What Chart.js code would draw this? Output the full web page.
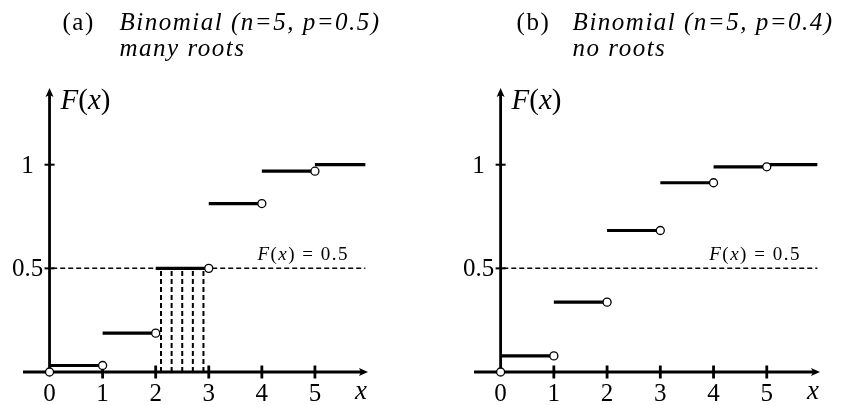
<!DOCTYPE html>
<html>
<head>
<meta charset="utf-8">
<script src="https://cdn.jsdelivr.net/npm/chart.js@4"></script>
<style>
  html, body { margin: 0; padding: 0; background: #fff; }
  #wrap { position: relative; width: 842px; height: 405px; }
  canvas { position: absolute; top: 0; }
</style>
</head>
<body>
<div id="wrap">
  <canvas id="cdfA" width="421" height="405" style="left:0"></canvas>
  <canvas id="cdfB" width="421" height="405" style="left:421px"></canvas>
</div>
<script>
// binomial CDF values, n = 5
const outcomes = [0, 1, 2, 3, 4, 5];
const cdfHalf = [0.03125, 0.1875, 0.5, 0.8125, 0.96875, 1];      // p = 0.5
const cdfFour = [0.07776, 0.33696, 0.68256, 0.91296, 0.98976, 1]; // p = 0.4
const rootsHalf = [2.1, 2.3, 2.5, 2.7, 2.9];  // sample points where F(x) = 0.5
const rootsFour = [];
const level = 0.5;
const tailEnd = 5.95;
const xTickValues = [0, 1, 2, 3, 4, 5];
const xTickLabels = ['0', '1', '2', '3', '4', '5'];
const yTickValues = [0.5, 1];
const yTickLabels = ['0.5', '1'];

const SERIF = '"Liberation Serif", "DejaVu Serif", serif';

// step function: [k, k+1) at F(k), broken with nulls
function stepData(cdf) {
  const pts = [];
  cdf.forEach((c, i) => {
    const x1 = i < cdf.length - 1 ? outcomes[i + 1] : tailEnd;
    pts.push({ x: outcomes[i], y: c }, { x: x1, y: c }, { x: x1, y: null });
  });
  return pts;
}

// open circles at the right end of every step, plus the origin
function openEnds(cdf) {
  const pts = [{ x: outcomes[0], y: 0 }];
  for (let i = 0; i < cdf.length - 1; i++) pts.push({ x: outcomes[i + 1], y: cdf[i] });
  return pts;
}

function rootLines(roots) {
  return roots.flatMap(r => [{ x: r, y: 0 }, { x: r, y: level }, { x: r, y: null }]);
}

// draw a run of [text, italic] pieces (math style)
function drawPieces(ctx, pieces, x, y, size, align) {
  let total = 0;
  const widths = pieces.map(([t, it]) => {
    ctx.font = (it ? 'italic ' : '') + size + 'px ' + SERIF;
    const w = ctx.measureText(t).width;
    total += w;
    return w;
  });
  let cx = align === 'center' ? x - total / 2 : align === 'right' ? x - total : x;
  ctx.textAlign = 'left';
  pieces.forEach(([t, it], i) => {
    ctx.font = (it ? 'italic ' : '') + size + 'px ' + SERIF;
    ctx.fillText(t, cx, y);
    cx += widths[i];
  });
}

const axesPlugin = {
  id: 'cdfAxes',
  beforeDatasetsDraw(chart, args, opts) {
    const { ctx } = chart;
    const xs = chart.scales.x, ys = chart.scales.y;
    const ox = xs.getPixelForValue(0), oy = ys.getPixelForValue(0);
    ctx.save();
    ctx.strokeStyle = '#000';
    ctx.fillStyle = '#000';
    ctx.lineWidth = 2.8;
    ctx.lineCap = 'butt';

    // x axis with arrow
    ctx.beginPath();
    ctx.moveTo(xs.left, oy);
    ctx.lineTo(xs.right - 6, oy);
    ctx.stroke();
    ctx.beginPath();
    ctx.moveTo(xs.right, oy);
    ctx.lineTo(xs.right - 9, oy - 4);
    ctx.lineTo(xs.right - 7, oy);
    ctx.lineTo(xs.right - 9, oy + 4);
    ctx.closePath();
    ctx.fill();

    // y axis with arrow
    ctx.beginPath();
    ctx.moveTo(ox, oy + 1);
    ctx.lineTo(ox, ys.top + 6);
    ctx.stroke();
    ctx.beginPath();
    ctx.moveTo(ox, ys.top);
    ctx.lineTo(ox - 4, ys.top + 9);
    ctx.lineTo(ox, ys.top + 7);
    ctx.lineTo(ox + 4, ys.top + 9);
    ctx.closePath();
    ctx.fill();

    // ticks
    xTickValues.forEach(v => {
      if (v === 0) return;
      const px = xs.getPixelForValue(v);
      ctx.beginPath();
      ctx.moveTo(px, oy - 6.5);
      ctx.lineTo(px, oy + 6.5);
      ctx.stroke();
    });
    ctx.lineWidth = 2;
    yTickValues.forEach(v => {
      const py = ys.getPixelForValue(v);
      ctx.beginPath();
      ctx.moveTo(ox - 5, py);
      ctx.lineTo(ox + 5, py);
      ctx.stroke();
    });
    ctx.restore();
  },
  afterDraw(chart, args, opts) {
    const { ctx } = chart;
    const xs = chart.scales.x, ys = chart.scales.y;
    const ox = xs.getPixelForValue(0), oy = ys.getPixelForValue(0);
    ctx.save();
    ctx.fillStyle = '#000';
    ctx.textBaseline = 'alphabetic';

    // tick labels
    ctx.font = '25px ' + SERIF;
    ctx.textAlign = 'center';
    xTickValues.forEach((v, i) => {
      ctx.fillText(xTickLabels[i], xs.getPixelForValue(v), oy + 29);
    });
    yTickValues.forEach((v, i) => {
      ctx.fillText(yTickLabels[i], ox - 22, ys.getPixelForValue(v) + 8);
    });

    // axis names
    drawPieces(ctx, [['x', true]], xs.getPixelForValue(5.87), oy + 27, 27, 'center');
    drawPieces(ctx, [['F', true], ['(', false], ['x', true], [')', false]],
      ox + 11, ys.top + 21, 29, 'left');

    // level label
    ctx.letterSpacing = '1.5px';
    drawPieces(ctx, [['F', true], ['(', false], ['x', true], [')', false], [' = 0.5', false]],
      xs.getPixelForValue(4.78), ys.getPixelForValue(level) - 8, 19, 'center');

    // panel caption
    ctx.letterSpacing = '1.5px';
    ctx.textAlign = 'left';
    ctx.font = '25px ' + SERIF;
    ctx.fillText(opts.tag, ox + opts.tagOffset, 30);
    ctx.font = 'italic 25px ' + SERIF;
    ctx.fillText(opts.title, ox + opts.titleOffset, 30);
    ctx.fillText(opts.subtitle, ox + opts.titleOffset, 56);
    ctx.restore();
  }
};

function makeChart(id, cdf, roots, caption, padLeft, padRight) {
  return new Chart(document.getElementById(id), {
    type: 'line',
    data: {
      datasets: [
        {
          type: 'scatter',
          data: openEnds(cdf),
          pointStyle: 'circle',
          pointRadius: 4,
          pointBorderWidth: 1.3,
          pointBackgroundColor: '#fff',
          pointBorderColor: '#000',
          showLine: false,
          clip: false,
          order: 0,
        },
        {
          data: stepData(cdf),
          borderColor: '#000',
          borderWidth: 3.2,
          pointRadius: 0,
          spanGaps: false,
          clip: false,
          order: 1,
        },
        {
          data: rootLines(roots),
          borderColor: '#000',
          borderWidth: 2,
          borderDash: [5, 3],
          pointRadius: 0,
          spanGaps: false,
          clip: false,
          order: 2,
        },
        {
          data: [{ x: 0.05, y: level }, { x: tailEnd, y: level }],
          borderColor: '#000',
          borderWidth: 1.5,
          borderDash: [5, 3],
          pointRadius: 0,
          clip: false,
          order: 3,
        },
      ],
    },
    options: {
      responsive: false,
      animation: false,
      devicePixelRatio: 1,
      layout: { padding: { left: padLeft, right: padRight, top: 88, bottom: 33 } },
      scales: {
        x: { type: 'linear', min: -0.5, max: 6, display: false },
        y: { type: 'linear', min: 0, max: 1.37, display: false },
      },
      elements: { line: { tension: 0, borderCapStyle: 'butt' } },
      plugins: {
        legend: { display: false },
        tooltip: { enabled: false },
        cdfAxes: caption,
      },
    },
    plugins: [axesPlugin],
  });
}

makeChart('cdfA', cdfHalf, rootsHalf,
  { tag: '(a)', title: 'Binomial (n=5, p=0.5)', subtitle: 'many roots', tagOffset: 13, titleOffset: 70 },
  23, 53);
makeChart('cdfB', cdfFour, rootsFour,
  { tag: '(b)', title: 'Binomial (n=5, p=0.4)', subtitle: 'no roots', tagOffset: 16, titleOffset: 72 },
  53, 22);
</script>
</body>
</html>
